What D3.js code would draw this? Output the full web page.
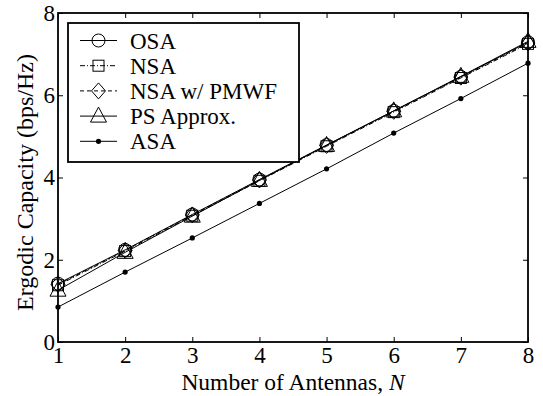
<!DOCTYPE html>
<html>
<head>
<meta charset="utf-8">
<script src="https://cdn.jsdelivr.net/npm/d3@7"></script>
<style>
  body { margin: 0; background: #fff; }
  svg { font-family: "Liberation Serif", "Times New Roman", serif; }
</style>
</head>
<body>
<div id="chart"></div>
<script>
const WIDTH = 543
const HEIGHT = 396
const margin = { top: 13, right: 15, bottom: 54, left: 58 }

const antennas = [1, 2, 3, 4, 5, 6, 7, 8]
const osa = [1.42, 2.24, 3.10, 3.95, 4.79, 5.62, 6.45, 7.29]
const nsa = [1.38, 2.21, 3.07, 3.92, 4.76, 5.59, 6.42, 7.25]
const nsaPmwf = [1.40, 2.23, 3.09, 3.94, 4.78, 5.61, 6.44, 7.27]
const psApprox = [1.26, 2.18, 3.06, 3.93, 4.78, 5.62, 6.46, 7.31]
const asa = [0.85, 1.70, 2.53, 3.37, 4.21, 5.08, 5.92, 6.78]
const xTicks = [1, 2, 3, 4, 5, 6, 7, 8]
const yTicks = [0, 2, 4, 6, 8]

const series = [
    { name: 'OSA', values: osa, dash: null, marker: 'circle' },
    { name: 'NSA', values: nsa, dash: '5,2,1,2', marker: 'square' },
    { name: 'NSA w/ PMWF', values: nsaPmwf, dash: '4,3', marker: 'diamond' },
    { name: 'PS Approx.', values: psApprox, dash: null, marker: 'triangle' },
    { name: 'ASA', values: asa, dash: null, marker: 'dot' }
]

const svg = d3.select('#chart').append('svg').attr('width', WIDTH).attr('height', HEIGHT)
const iw = WIDTH - margin.left - margin.right
const ih = HEIGHT - margin.top - margin.bottom
const g = svg.append('g').attr('transform', `translate(${margin.left},${margin.top})`)

const x = d3.scaleLinear().domain([1, 8]).range([0, iw])
const y = d3.scaleLinear().domain([0, 8]).range([ih, 0])

// frame
g.append('rect').attr('width', iw).attr('height', ih)
    .attr('fill', 'none').attr('stroke', '#000').attr('stroke-width', 1.8)

// inward ticks on all four sides
const tickLen = 5
g.append('g').attr('transform', `translate(0,${ih})`)
    .call(d3.axisBottom(x).tickValues(xTicks).tickSize(-tickLen).tickPadding(5).tickFormat(d3.format('d')))
g.append('g')
    .call(d3.axisTop(x).tickValues(xTicks).tickSize(-tickLen).tickFormat(''))
g.append('g')
    .call(d3.axisLeft(y).tickValues(yTicks).tickSize(-tickLen).tickPadding(3).tickFormat(d3.format('d')))
g.append('g').attr('transform', `translate(${iw},0)`)
    .call(d3.axisRight(y).tickValues(yTicks).tickSize(-tickLen).tickFormat(''))

g.selectAll('.domain').remove()
g.selectAll('.tick line').attr('stroke', '#000').attr('stroke-width', 1)
g.selectAll('.tick text').attr('font-size', 23).attr('fill', '#000')
    .attr('font-family', '"Liberation Serif", serif')

// markers
function drawMarker(sel, type, cx, cy) {
    if (type === 'circle') {
        sel.append('circle').attr('cx', cx).attr('cy', cy).attr('r', 6.5)
            .attr('fill', 'none').attr('stroke', '#000').attr('stroke-width', 1)
    } else if (type === 'square') {
        sel.append('rect').attr('x', cx - 5.5).attr('y', cy - 5.5).attr('width', 11).attr('height', 11)
            .attr('fill', 'none').attr('stroke', '#000').attr('stroke-width', 1)
    } else if (type === 'diamond') {
        sel.append('path').attr('d', `M${cx},${cy - 8}L${cx + 7},${cy}L${cx},${cy + 8}L${cx - 7},${cy}Z`)
            .attr('fill', 'none').attr('stroke', '#000').attr('stroke-width', 1)
    } else if (type === 'triangle') {
        sel.append('path').attr('d', `M${cx},${cy - 9}L${cx + 8},${cy + 6}L${cx - 8},${cy + 6}Z`)
            .attr('fill', 'none').attr('stroke', '#000').attr('stroke-width', 1)
    } else {
        sel.append('circle').attr('cx', cx).attr('cy', cy).attr('r', 2.6).attr('fill', '#000')
    }
}

const line = d3.line().x((d, i) => x(antennas[i])).y(d => y(d))

series.forEach(s => {
    g.append('path').datum(s.values)
        .attr('d', line)
        .attr('fill', 'none')
        .attr('stroke', '#000')
        .attr('stroke-width', 1)
        .attr('stroke-dasharray', s.dash)
    const mg = g.append('g')
    s.values.forEach((v, i) => drawMarker(mg, s.marker, x(antennas[i]), y(v)))
})

// legend
const lg = svg.append('g').attr('transform', 'translate(68,23)')
lg.append('rect').attr('width', 231).attr('height', 139)
    .attr('fill', '#fff').attr('stroke', '#000').attr('stroke-width', 1.8)
series.forEach((s, i) => {
    const ly = 17.5 + i * 25.2
    lg.append('line').attr('x1', 12).attr('x2', 49).attr('y1', ly).attr('y2', ly)
        .attr('stroke', '#000').attr('stroke-width', 1).attr('stroke-dasharray', s.dash)
    drawMarker(lg, s.marker, 30.5, ly)
    lg.append('text').attr('x', 62).attr('y', ly).attr('dy', '0.35em')
        .attr('font-size', 23).text(s.name)
})

// axis titles
svg.append('text')
    .attr('x', margin.left + iw / 2).attr('y', 390)
    .attr('text-anchor', 'middle').attr('font-size', 23.5)
    .html('Number of Antennas, <tspan font-style="italic">N</tspan>')

svg.append('text')
    .attr('transform', `translate(33,${margin.top + ih / 2 + 5}) rotate(-90)`)
    .attr('text-anchor', 'middle').attr('font-size', 24)
    .text('Ergodic Capacity (bps/Hz)')
</script>
</body>
</html>
